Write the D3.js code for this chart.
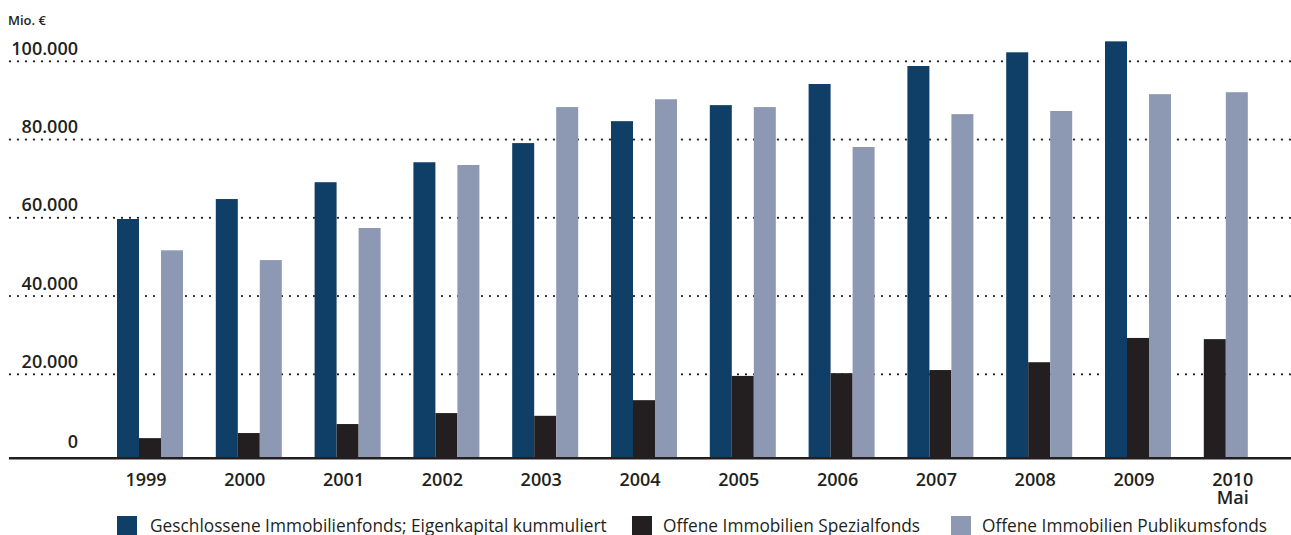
<!DOCTYPE html>
<meta charset="utf-8">
<script src="https://d3js.org/d3.v7.min.js"></script>
<style>
  body { margin: 0; background: #fff; }
  text { font-family: "Open Sans", sans-serif; fill: #231f20; }
</style>
<div id="chart"></div>
<script>
// data (Mio. €)
var years = ["1999","2000","2001","2002","2003","2004","2005","2006","2007","2008","2009","2010"];
var yearSub = ["","","","","","","","","","","","Mai"];
var geschlossen = [59700, 64800, 69100, 74200, 79100, 84700, 88800, 94200, 98800, 102300, 105100, null];
var spezial = [3700, 5000, 7300, 10100, 9400, 13400, 19600, 20300, 21100, 23100, 29300, 29000];
var publikum = [51700, 49200, 57400, 73500, 88300, 90300, 88300, 78100, 86500, 87300, 91600, 92100];
var seriesNames = ["Geschlossene Immobilienfonds; Eigenkapital kummuliert", "Offene Immobilien Spezialfonds", "Offene Immobilien Publikumsfonds"];
var yTicks = [0, 20000, 40000, 60000, 80000, 100000];

var colors = ["#0f3f67", "#231f20", "#8d99b2"];
var series = [geschlossen, spezial, publikum];

var W = 1291, H = 535;
var baseY = 458.3;

var svg = d3.select("#chart").append("svg")
  .attr("width", W).attr("height", H)
  .style("display", "block");

var de = d3.formatLocale({decimal: ",", thousands: ".", grouping: [3], currency: ["", " €"]});
var fmt = de.format(",");

var y = d3.scaleLinear().domain([0, 100000]).range([452.6, 61.3]);

var x = d3.scaleBand().domain(years)
  .range([100.6, 1286.2])
  .paddingInner(0.332).paddingOuter(0.166);
var bw = x.bandwidth() / 3;

// gridlines (dotted)
svg.append("g").selectAll("line")
  .data(yTicks.filter(function(d) { return d > 0; }))
  .enter().append("line")
    .attr("x1", 10).attr("x2", W)
    .attr("y1", function(d) { return y(d); })
    .attr("y2", function(d) { return y(d); })
    .attr("stroke", "#231f20")
    .attr("stroke-width", 2.3)
    .attr("stroke-linecap", "round")
    .attr("stroke-dasharray", "0 8");

// y labels
svg.append("g").selectAll("text")
  .data(yTicks)
  .enter().append("text")
    .attr("x", 78)
    .attr("y", function(d) { return y(d) - (d === 0 ? 5 : 6.5); })
    .attr("text-anchor", "end")
    .style("font-size", "18px")
    .style("font-weight", 600)
    .text(function(d) { return fmt(d); });

svg.append("text")
  .attr("x", 8).attr("y", 25)
  .style("font-size", "13px")
  .style("font-weight", 600)
  .text("Mio. €");

// bars: present series are packed from the left of each group
var bars = [];
years.forEach(function(yr, i) {
  var k = 0;
  series.forEach(function(s, j) {
    if (s[i] == null) return;
    bars.push({year: yr, value: s[i], slot: k, color: colors[j]});
    k++;
  });
});

svg.append("g").selectAll("rect")
  .data(bars)
  .enter().append("rect")
    .attr("x", function(d) { return x(d.year) + d.slot * bw; })
    .attr("width", bw)
    .attr("y", function(d) { return y(d.value); })
    .attr("height", function(d) { return baseY - y(d.value); })
    .attr("fill", function(d) { return d.color; });

// baseline
svg.append("line")
  .attr("x1", 9).attr("x2", W)
  .attr("y1", baseY).attr("y2", baseY)
  .attr("stroke", "#231f20")
  .attr("stroke-width", 2.4);

// x labels (second line as its own text)
var lx = function(d) { return x(d) + x.bandwidth() / 2 - 4; };
svg.append("g").selectAll("text")
  .data(years)
  .enter().append("text")
    .attr("x", lx)
    .attr("y", 486)
    .attr("text-anchor", "middle")
    .style("font-size", "18px")
    .style("font-weight", 600)
    .text(function(d) { return d; });
svg.append("g").selectAll("text")
  .data(years.filter(function(d, i) { return yearSub[i]; }))
  .enter().append("text")
    .attr("x", lx)
    .attr("y", 504)
    .attr("text-anchor", "middle")
    .style("font-size", "18px")
    .style("font-weight", 600)
    .text(function(d) { return yearSub[years.indexOf(d)]; });

// legend
var legX = [117, 632, 951];
var leg = svg.append("g").selectAll("g")
  .data(seriesNames)
  .enter().append("g")
    .attr("transform", function(d, i) { return "translate(" + legX[i] + ",516)"; });
leg.append("rect")
  .attr("width", 20).attr("height", 20)
  .attr("fill", function(d, i) { return colors[i]; });
leg.append("text")
  .attr("x", function(d, i) { return i === 0 ? 33 : 31; })
  .attr("y", 15.5)
  .style("font-size", "17.3px")
  .text(function(d) { return d; });
</script>
